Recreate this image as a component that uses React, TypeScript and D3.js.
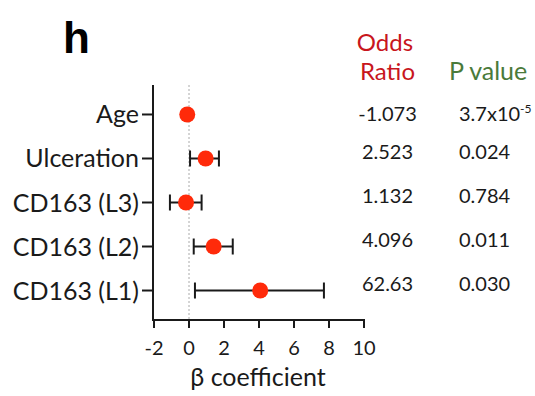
import React from "react";
import * as d3 from "d3";

const categories = ["Age", "Ulceration", "CD163 (L3)", "CD163 (L2)", "CD163 (L1)"];
const estimates = [-0.1, 0.95, -0.17, 1.41, 4.07];
const ciLow: (number | null)[] = [null, 0.06, -1.09, 0.27, 0.34];
const ciHigh: (number | null)[] = [null, 1.71, 0.72, 2.5, 7.71];
const oddsRatios = ["-1.073", "2.523", "1.132", "4.096", "62.63"];
const pValues = ["3.7x10", "0.024", "0.784", "0.011", "0.030"];
const pSup = ["-5", "", "", "", ""];
const xTicks = [-2, 0, 2, 4, 6, 8, 10];

const W = 535;
const H = 396;
const FONT = "Lato, 'Open Sans', 'DejaVu Sans', sans-serif";

export default function App() {
  const x = d3.scaleLinear().domain([-2, 10]).range([154, 364]);
  const y = d3.scalePoint<string>().domain(categories).range([85, 320]).padding(0.67);
  const axisLeft = 153;
  const axisTop = 85;
  const axisBottom = 320;
  const dotColor = "#ff2a0a";
  const ink = "#1a1a1a";

  return (
    <svg width={W} height={H} style={{ position: "absolute", left: 0, top: 0 }} fontFamily={FONT}>
      <rect width={W} height={H} fill="#fff" />
      <text x={63} y={53} fontSize={44} fontWeight="bold" fill="#000" fontFamily="'Liberation Sans', Arial, sans-serif">h</text>

      <text x={385} y={51} fontSize={24} fill="#c8161d" textAnchor="middle">Odds</text>
      <text x={387.5} y={80} fontSize={24} fill="#c8161d" textAnchor="middle">Ratio</text>
      <text x={449} y={80} fontSize={25} fill="#4a7a3a">P value</text>

      {/* zero reference line */}
      <line x1={x(0)} x2={x(0)} y1={axisTop} y2={axisBottom} stroke="#aaa" strokeWidth={1} strokeDasharray="2,2" />

      {/* axes */}
      <line x1={axisLeft} x2={axisLeft} y1={axisTop} y2={axisBottom + 1} stroke={ink} strokeWidth={2} />
      <line x1={axisLeft} x2={x(10) + 1} y1={axisBottom} y2={axisBottom} stroke={ink} strokeWidth={2} />
      {xTicks.map((t) => (
        <g key={t}>
          <line x1={x(t)} x2={x(t)} y1={axisBottom} y2={axisBottom + 8} stroke={ink} strokeWidth={2} />
          <text x={x(t)} y={355} fontSize={20} fill={ink} textAnchor="middle">{t}</text>
        </g>
      ))}
      <text x={258} y={386} fontSize={25} fill={ink} textAnchor="middle">β coefficient</text>

      {categories.map((c, i) => {
        const cy = y(c) as number;
        const lo = ciLow[i];
        const hi = ciHigh[i];
        return (
          <g key={c}>
            <line x1={axisLeft - 11} x2={axisLeft} y1={cy} y2={cy} stroke={ink} strokeWidth={2} />
            <text x={139} y={cy + 9} fontSize={25} fill={ink} textAnchor="end">{c}</text>
            {lo !== null && hi !== null && (
              <g stroke={ink} strokeWidth={2}>
                <line x1={x(lo)} x2={x(hi)} y1={cy} y2={cy} />
                <line x1={x(lo)} x2={x(lo)} y1={cy - 8} y2={cy + 8} />
                <line x1={x(hi)} x2={x(hi)} y1={cy - 8} y2={cy + 8} />
              </g>
            )}
            <circle cx={x(estimates[i])} cy={cy} r={8} fill={dotColor} />
            <text x={387.5} y={cy + (i === 0 ? 6.5 : 0.5)} fontSize={20} fill={ink} textAnchor="middle">{oddsRatios[i]}</text>
            <text x={459} y={cy + (i === 0 ? 6.5 : 0.5)} fontSize={20} fill={ink}>
              {pValues[i]}
              {pSup[i] && (
                <tspan fontSize={12} dy={-8}>{pSup[i]}</tspan>
              )}
            </text>
          </g>
        );
      })}
    </svg>
  );
}
